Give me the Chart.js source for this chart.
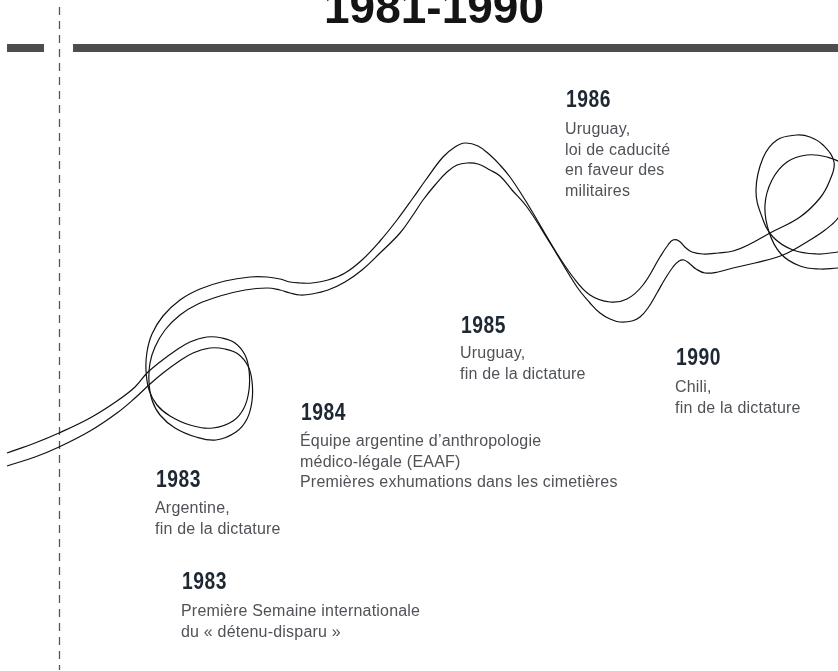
<!DOCTYPE html>
<html>
<head>
<meta charset="utf-8">
<style>
html,body{margin:0;padding:0;background:#fff;}
#wrap{width:838px;height:671px;position:relative;}
</style>
<script src="https://cdn.jsdelivr.net/npm/chart.js@4.4.1/dist/chart.umd.min.js"></script>
</head>
<body>
<div id="wrap"><canvas id="c" width="838" height="671"></canvas></div>
<script>
// ---- data (pixel units of the 838x671 frame) ----
const titleText = "1981-1990";

const upperLineX = [7,35,59,90,117,135,147,160,175,190,207,222,235,245,249,249,244,233,213,190,170,157,149,146,147,152,163,180,200,225,250,267,280,290,300,312,328,345,362,380,397,413,425,443,455,465,478,490,500,510,522,533,553,573,590,610,627,643,660,668,673,679,686,692,703,718,733,750,770,800,820,830,834,823,810,797,777,763,756,762,773,793,817,838,848];
const upperLineY = [453,443,433,418,401,387,373,362,351,342,337,338,343,355,370,390,408,421,428,425,416,405,390,370,352,334,316,300,289,281,277,277,279,282,283,283,280,273,260,241,220,198,181,157,147,143,146,155,165,177,195,213,247,277,295,302,299,285,257,245,240,241,248,252,254,253,251,244,233,217,198,180,162,145,137,135,140,158,190,217,237,250,254,252,251];

const lowerLineX = [7,35,59,90,117,135,150,163,178,193,210,225,238,248,252,252,247,236,216,196,175,160,152,149,150,155,165,180,198,220,245,267,280,290,300,312,328,345,362,380,400,413,423,435,447,457,467,478,490,500,512,527,550,577,590,600,610,620,632,640,648,657,665,673,679,684,690,696,705,718,733,755,783,810,825,838,847,849,842,827,807,787,772,765,769,781,800,820,838,848];
const lowerLineY = [466,457,447,431,413,398,384,373,362,353,348,349,354,366,381,401,419,432,440,437,428,415,400,382,363,347,330,315,304,296,290,288,290,293,295,294,290,282,270,253,233,215,200,185,172,165,163,164,170,176,190,207,243,287,303,313,319,322,321,317,308,293,279,267,261,260,264,269,273,272,268,263,255,240,230,218,200,180,164,157,155,162,180,205,232,254,266,269,268,268];

const eventYears = ["1986","1985","1984","1983","1983","1990"];
const eventTexts = [
  ["Uruguay,","loi de caducité","en faveur des","militaires"],
  ["Uruguay,","fin de la dictature"],
  ["Équipe argentine d’anthropologie","médico-légale (EAAF)","Premières exhumations dans les cimetières"],
  ["Argentine,","fin de la dictature"],
  ["Première Semaine internationale","du « détenu-disparu »"],
  ["Chili,","fin de la dictature"]
];

// ---- layout of the annotations (position in the same frame units) ----
const labelLeft     = [566, 461, 301, 156, 182, 676];
const labelYearBase = [107, 333, 420, 487, 589, 365];
const labelBodyBase = [134, 358, 446, 513, 616, 392];
const bodyLineGap = 20.5;

const toPts = (xs, ys) => xs.map((x, i) => ({x, y: ys[i]}));

const decor = {
  id: 'decor',
  beforeDatasetsDraw(chart) {
    const ctx = chart.ctx, sx = chart.scales.x, sy = chart.scales.y;
    const X = v => sx.getPixelForValue(v), Y = v => sy.getPixelForValue(v);
    ctx.save();
    // title
    ctx.fillStyle = '#141414';
    ctx.font = 'bold 46px "Liberation Sans", Arial, sans-serif';
    ctx.textAlign = 'center';
    ctx.textBaseline = 'alphabetic';
    ctx.fillText(titleText, X(434), Y(23));
    // heavy rule
    ctx.fillStyle = '#4d4d4d';
    ctx.fillRect(X(7), Y(44), X(44) - X(7), Y(52) - Y(44));
    ctx.fillRect(X(73), Y(44), X(838) - X(73), Y(52) - Y(44));
    // dashed vertical guide
    ctx.strokeStyle = '#555';
    ctx.lineWidth = 1.3;
    ctx.setLineDash([8, 6]);
    ctx.beginPath();
    ctx.moveTo(X(59.5), Y(7));
    ctx.lineTo(X(59.5), Y(670));
    ctx.stroke();
    ctx.setLineDash([]);
    ctx.restore();
  },
  afterDatasetsDraw(chart) {
    const ctx = chart.ctx, sx = chart.scales.x, sy = chart.scales.y;
    const X = v => sx.getPixelForValue(v), Y = v => sy.getPixelForValue(v);
    ctx.save();
    ctx.textAlign = 'left';
    ctx.textBaseline = 'alphabetic';
    eventYears.forEach((yr, i) => {
      // condensed bold year
      ctx.save();
      ctx.fillStyle = '#1e2833';
      ctx.font = 'bold 23.5px "Liberation Sans", Arial, sans-serif';
      ctx.translate(X(labelLeft[i]), Y(labelYearBase[i]));
      ctx.scale(0.82, 1);
      ctx.letterSpacing = '0.6px';
      ctx.fillText(yr, 0, 0);
      ctx.restore();
      // body lines
      ctx.save();
      ctx.fillStyle = '#4f5257';
      ctx.font = '16px "Liberation Sans", Arial, sans-serif';
      ctx.letterSpacing = '0.2px';
      eventTexts[i].forEach((t, k) => {
        ctx.fillText(t, X(labelLeft[i] - 1), Y(labelBodyBase[i] + k * bodyLineGap));
      });
      ctx.restore();
    });
    ctx.restore();
  }
};

new Chart(document.getElementById('c'), {
  type: 'scatter',
  data: {
    datasets: [
      { data: toPts(upperLineX, upperLineY) },
      { data: toPts(lowerLineX, lowerLineY) }
    ]
  },
  options: {
    responsive: false,
    animation: false,
    devicePixelRatio: 1,
    layout: { padding: 0 },
    showLine: true,
    datasets: { scatter: { showLine: true } },
    elements: {
      point: { radius: 0, hoverRadius: 0 },
      line: { borderColor: '#111', borderWidth: 1.2, tension: 0.4, capBezierPoints: false, fill: false }
    },
    plugins: { legend: { display: false }, tooltip: { enabled: false }, title: { display: false } },
    scales: {
      x: { type: 'linear', min: 0, max: 838, display: false },
      y: { type: 'linear', min: 0, max: 671, reverse: true, display: false }
    }
  },
  plugins: [decor]
});
</script>
</body>
</html>
